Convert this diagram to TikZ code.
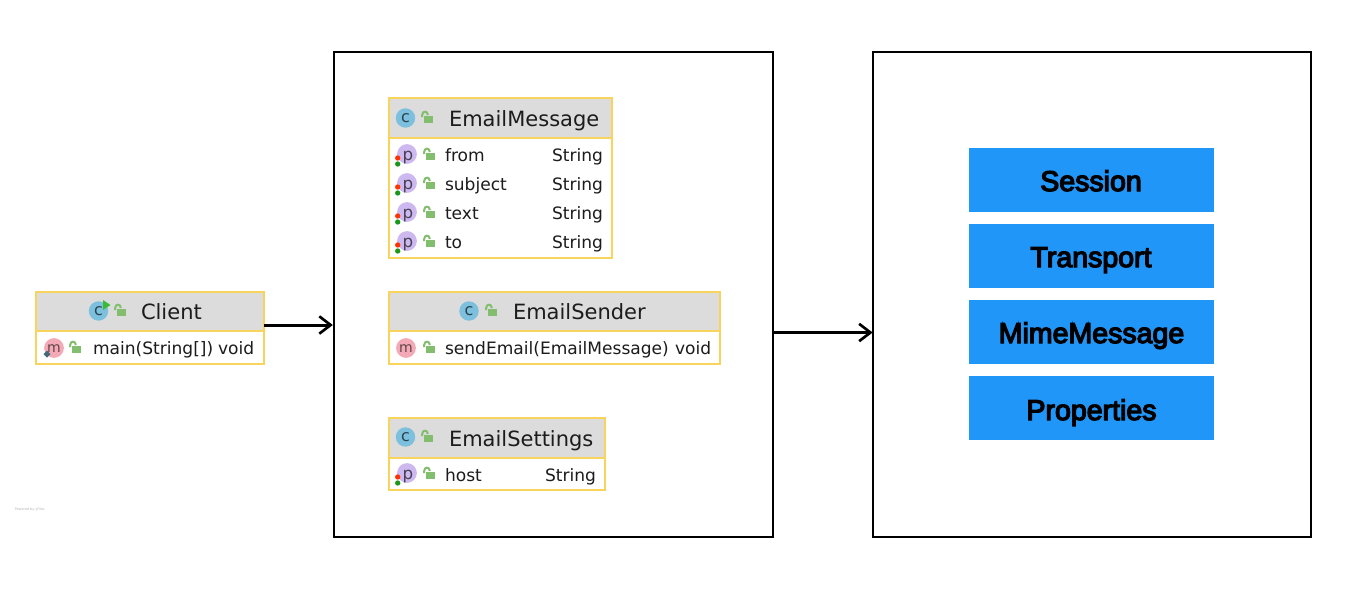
\documentclass[tikz,border=0pt]{standalone}
\usepackage{fontspec}
\setmainfont{DejaVu Sans}
\newfontfamily\blueface[FakeBold=4.5]{Liberation Sans}
\usetikzlibrary{arrows.meta}
\definecolor{goldline}{HTML}{F8D45C}
\definecolor{headgray}{HTML}{DCDCDC}
\definecolor{inkdark}{HTML}{1C1C1C}
\definecolor{iconblue}{HTML}{7CC0DE}
\definecolor{iconpurple}{HTML}{CDB9F0}
\definecolor{iconpink}{HTML}{F3AAB6}
\definecolor{lockgreen}{HTML}{82BE6E}
\definecolor{boxblue}{HTML}{2196F9}
\tikzset{
  x=0.75pt,y=-0.75pt,
  every node/.style={inner sep=0pt,outer sep=0pt},
  panel/.style={draw=black,line width=1.5pt,fill=white,minimum width=329pt,minimum height=363.75pt},
  bluebox/.style={fill=boxblue,minimum width=183.75pt,minimum height=48pt},
  bluetext/.style={anchor=base,text=black,font=\blueface\fontsize{21.4}{24}\selectfont},
  classbody/.style={draw=goldline,line width=1.5pt,fill=white},
  classhead/.style={draw=goldline,line width=1.5pt,fill=headgray},
  title/.style={anchor=base west,text=inkdark,font=\fontsize{15.75}{18}\selectfont},
  member/.style={anchor=base west,text=inkdark,font=\fontsize{12.8}{15}\selectfont},
  iconletter/.style={anchor=base,text=black!65!iconblue},
  conn/.style={draw=black,line width=2.25pt,-{Straight Barb[length=8.5pt,width=13pt,line width=2pt]}},
}
\newcount\iconid
% lock icon at pixel position
\newcommand{\lockicon}[2]{%
  \begin{scope}[shift={(#1,#2)}]
    \fill[lockgreen] (-3.5,-2.5) rectangle (6,5);
    \draw[lockgreen,line width=1.5pt] (-4.8,-1) -- (-4.8,-3) .. controls (-4.8,-7.5) and (0.8,-7.5) .. (0.8,-3);
  \end{scope}}
% round icons
\newcommand{\classicon}[2]{%
  \global\advance\iconid by 1
  \fill[iconblue] (#1,#2) circle[radius=7.3pt];
  \node[iconletter,font=\fontsize{12}{13}\selectfont] (icon\the\iconid) at (#1,#2+4.4) {c};}
\newcommand{\methodicon}[2]{%
  \global\advance\iconid by 1
  \fill[iconpink] (#1,#2) circle[radius=7.4pt];
  \node[iconletter,text=black!60!iconpink,font=\fontsize{10.5}{12}\selectfont] (icon\the\iconid) at (#1,#2+4.6) {m};}
\newcommand{\propicon}[2]{%
  \global\advance\iconid by 1
  \fill[iconpurple] (#1,#2-1) circle[radius=7.4pt];
  \node[iconletter,text=black!65!iconpurple,font=\fontsize{12.5}{13}\selectfont] (icon\the\iconid) at (#1+1,#2+5) {p};
  \fill[red!60!orange] (#1-9.3,#2+3) circle[radius=2pt];
  \fill[green!55!black!90] (#1-9.3,#2+9) circle[radius=2pt];}
% class box: name, left, top, right, bottom of head, bottom
\newcommand{\classbox}[6]{%
  \node[classbody,minimum width={(#4-#2)*0.75pt},minimum height={(#6-#3)*0.75pt}] (#1) at ({(#2+#4)/2},{(#3+#6)/2}) {};
  \node[classhead,minimum width={(#4-#2)*0.75pt},minimum height={(#5-#3)*0.75pt}] (#1head) at ({(#2+#4)/2},{(#3+#5)/2}) {};}
\begin{document}
\begin{tikzpicture}
\useasboundingbox (0,0) rectangle (1351,590);
\fill[white] (0,0) rectangle (1351,590);

\node[panel] (pkgA) at (553.5,294.5) {};
\node[panel] (pkgB) at (1092,294.5) {};

% Client
\classbox{client}{35.5}{292}{263.5}{331}{364}
\classicon{98.5}{311}
\fill[green!45!lockgreen!85!black] (103,300) -- (110.5,305) -- (103,310) -- cycle;
\lockicon{120}{311}
\node[title] (clientT) at (141,319.5) {Client};
\methodicon{54}{348}
\fill[black!45!iconblue] (47,350.5) -- (50.5,354) -- (47,357.5) -- (43.5,354) -- cycle;
\lockicon{75}{348}
\node[member] (clientM) at (93,354) {main(String[])};
\node[member] (clientV) at (218,354) {void};

% EmailMessage
\classbox{msg}{389}{98}{612}{138}{258}
\classicon{405.5}{118}
\lockicon{427}{118}
\node[title] (msgT) at (449,126) {EmailMessage};
\propicon{407}{155}\lockicon{429}{155}
\node[member] (m1) at (445,161) {from};
\node[member] (m1t) at (552,161) {String};
\propicon{407}{184}\lockicon{429}{184}
\node[member] (m2) at (445,190) {subject};
\node[member] (m2t) at (552,190) {String};
\propicon{407}{213}\lockicon{429}{213}
\node[member] (m3) at (445,219) {text};
\node[member] (m3t) at (552,219) {String};
\propicon{407}{242}\lockicon{429}{242}
\node[member] (m4) at (445,248) {to};
\node[member] (m4t) at (552,248) {String};

% EmailSender
\classbox{sender}{389}{292}{720}{331}{364}
\classicon{469}{311}
\lockicon{491}{311}
\node[title] (senderT) at (513,319.5) {EmailSender};
\methodicon{406}{348}
\lockicon{429}{348}
\node[member] (senderM) at (445,354) {sendEmail(EmailMessage)};
\node[member] (senderV) at (675,354) {void};

% EmailSettings
\classbox{settings}{389}{418}{605}{458}{490}
\classicon{405.5}{437}
\lockicon{427}{437}
\node[title] (settingsT) at (449,446) {EmailSettings};
\propicon{407}{474}\lockicon{429}{474}
\node[member] (s1) at (445,481) {host};
\node[member] (s1t) at (545,481) {String};

% Library classes
\node[bluebox] (session) at (1091.5,180) {};
\node[bluebox] (transport) at (1091.5,256) {};
\node[bluebox] (mime) at (1091.5,332) {};
\node[bluebox] (props) at (1091.5,408) {};
\node[bluetext] (sessionT) at (1091,191) {Session};
\node[bluetext] (transportT) at (1091,267) {Transport};
\node[bluetext] (mimeT) at (1091.5,343) {MimeMessage};
\node[bluetext] (propsT) at (1091.5,420) {Properties};

% connectors
\draw[conn,shorten >=1pt] ([yshift=2.25pt]client.east) -- ([yshift=2.25pt]client.east -| pkgA.west);
\draw[conn,shorten <=1pt] ([yshift=-28.5pt]pkgA.east) -- ([yshift=-28.5pt]pkgB.west);

\node[anchor=base west,text=black!30,font=\fontsize{2.5}{3}\selectfont] (powered) at (15,510) {Powered by yFiles};
\end{tikzpicture}
\end{document}
